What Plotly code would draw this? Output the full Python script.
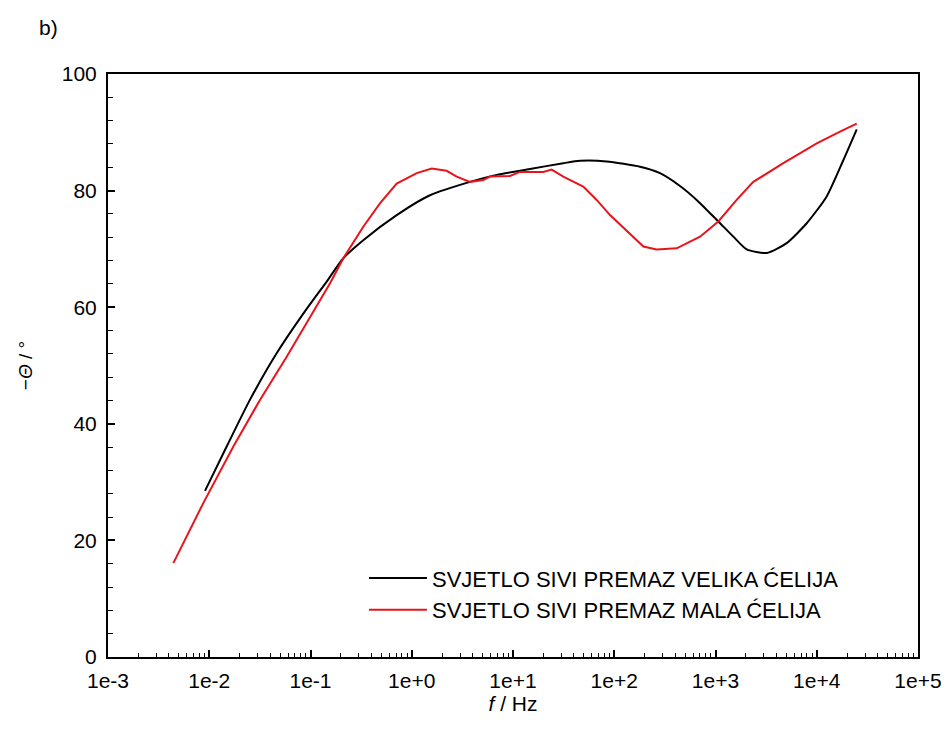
import plotly.graph_objects as go

# Data (frequency in Hz, -phase in degrees)
f_black = [0.00908, 0.01486, 0.0252, 0.0463, 0.0849, 0.1445, 0.211, 0.332, 0.710,
           1.513, 3.76, 6.90, 14.7, 31.4, 45.9, 84.2, 179.6, 283, 446, 652, 1066,
           1500, 2034, 3205, 5047, 7960, 12540, 18290, 24840]
v_black = [28.5, 36.1, 44.1, 52.1, 58.9, 64.4, 68.4, 71.5, 75.8,
           79.2, 81.5, 82.7, 83.7, 84.7, 85.1, 85.0, 84.1, 83.0, 80.8, 78.4, 74.7,
           72.1, 69.9, 69.3, 71.0, 74.4, 79.0, 85.2, 90.5]

f_red = [0.00442, 0.00873, 0.0173, 0.0317, 0.0582, 0.0989, 0.156, 0.211, 0.332,
         0.485, 0.710, 1.12, 1.574, 2.21, 2.78, 3.76, 5.09, 5.93, 9.34, 11.7,
         19.9, 24.1, 31.4, 49.4, 67.1, 90.8, 154, 194, 262, 414, 703, 1066, 1618,
         2362, 4677, 10000, 16980, 24840]
v_red = [16.1, 26.4, 36.1, 44.1, 51.5, 58.4, 64.1, 68.4, 73.8,
         77.8, 81.2, 83.0, 83.8, 83.4, 82.4, 81.5, 81.8, 82.4, 82.5, 83.2,
         83.2, 83.6, 82.4, 80.7, 78.4, 75.8, 72.1, 70.4, 69.9, 70.1, 72.1, 74.7, 78.4,
         81.5, 84.7, 88.1, 90.1, 91.5]

names = ["SVJETLO SIVI PREMAZ VELIKA ĆELIJA", "SVJETLO SIVI PREMAZ MALA ĆELIJA"]

x_tickvals = [1e-3, 1e-2, 1e-1, 1e0, 1e1, 1e2, 1e3, 1e4, 1e5]
x_ticktext = ["1e-3", "1e-2", "1e-1", "1e+0", "1e+1", "1e+2", "1e+3", "1e+4", "1e+5"]
x_minor = [m * 10 ** e for e in range(-3, 5) for m in range(2, 10)]

FONT = "Liberation Sans, Arial, sans-serif"

fig = go.Figure()
fig.add_trace(go.Scatter(x=f_black, y=v_black, mode="lines", name=names[0],
                         line=dict(color="black", width=2, shape="spline", smoothing=0.6)))
fig.add_trace(go.Scatter(x=f_red, y=v_red, mode="lines", name=names[1],
                         line=dict(color="#e8141c", width=2)))

fig.update_layout(
    width=941, height=734,
    paper_bgcolor="white", plot_bgcolor="white",
    margin=dict(l=100, r=31, t=66, b=85),
    font=dict(family=FONT, size=21, color="black"),
    showlegend=True,
    legend=dict(x=0.316, y=0.171, xanchor="left", yanchor="top",
                bgcolor="rgba(0,0,0,0)", font=dict(size=22), tracegroupgap=0,
                itemwidth=58),
    annotations=[dict(text="b)", xref="paper", yref="paper", x=-0.074, y=1.079,
                      xanchor="center", yanchor="middle", showarrow=False,
                      font=dict(size=21))],
)
fig.update_xaxes(
    type="log", range=[-3, 5], automargin=False,
    tickmode="array", tickvals=x_tickvals, ticktext=x_ticktext,
    ticks="inside", ticklen=7, tickwidth=1.5, tickcolor="black",
    ticklabelstandoff=4,
    minor=dict(tickvals=x_minor, ticks="inside", ticklen=4, tickcolor="black", tickwidth=1),
    showline=True, linecolor="black", linewidth=2, mirror=True,
    showgrid=False, zeroline=False,
    title=dict(text="<i>f</i> / Hz", standoff=5, font=dict(size=21)),
)
fig.update_yaxes(
    range=[0, 100], tickmode="linear", tick0=0, dtick=20, automargin=False,
    ticks="inside", ticklen=7, tickwidth=1.5, tickcolor="black",
    ticklabelstandoff=5,
    minor=dict(dtick=4, ticks="inside", ticklen=5, tickcolor="black", tickwidth=1),
    showline=True, linecolor="black", linewidth=2, mirror=True,
    showgrid=False, zeroline=False,
    title=dict(text="−<i>Θ</i> / °", standoff=24, font=dict(size=19)),
)

fig.write_html("out.html")
